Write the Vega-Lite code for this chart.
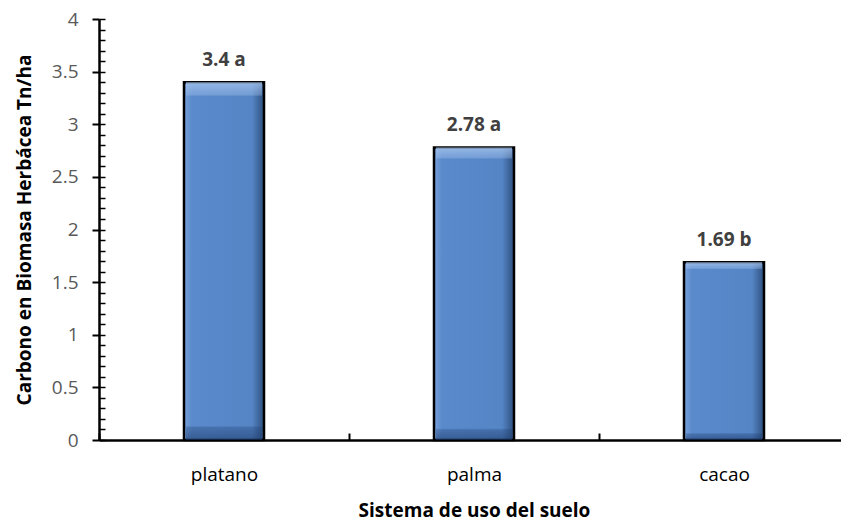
{
  "$schema": "https://vega.github.io/schema/vega-lite/v6.json",
  "width": 742,
  "height": 421,
  "autosize": {"type": "none"},
  "padding": {"left": 99, "top": 19, "right": 0, "bottom": 86},
  "background": "white",
  "config": {
    "view": {"stroke": null},
    "font": "Open Sans"
  },
  "data": {
    "values": [
      {"sistema": "platano", "carbono": 3.4, "etiqueta": "3.4 a"},
      {"sistema": "palma", "carbono": 2.78, "etiqueta": "2.78 a"},
      {"sistema": "cacao", "carbono": 1.69, "etiqueta": "1.69 b"}
    ]
  },
  "encoding": {
    "x": {
      "field": "sistema",
      "type": "nominal",
      "sort": null,
      "scale": {"range": [0, 750], "paddingInner": 0, "paddingOuter": 0},
      "axis": {
        "title": "Sistema de uso del suelo",
        "titleFont": "Open Sans",
        "titleFontSize": 19,
        "titleFontWeight": "bold",
        "titleColor": "#000000",
        "titlePadding": 17,
        "labelFont": "Open Sans",
        "labelFontSize": 19,
        "labelColor": "#000000",
        "labelAngle": 0,
        "labelPadding": 32,
        "tickBand": "extent",
        "tickSize": -7,
        "tickColor": "#000000",
        "tickWidth": 2,
        "domainColor": "#000000",
        "domainWidth": 2.5,
        "grid": false
      }
    }
  },
  "layer": [
    {
      "mark": {
        "type": "bar",
        "width": 80,
        "stroke": "#000000",
        "strokeWidth": 2.5,
        "color": {
          "gradient": "linear",
          "x1": 0, "y1": 0, "x2": 1, "y2": 0,
          "stops": [
            {"offset": 0, "color": "#7aa3dc"},
            {"offset": 0.1, "color": "#5a8acb"},
            {"offset": 0.85, "color": "#5585c5"},
            {"offset": 1, "color": "#2d4f7e"}
          ]
        }
      },
      "encoding": {
        "y": {
          "field": "carbono",
          "type": "quantitative",
          "scale": {"domain": [0, 4], "nice": false},
          "axis": {
            "orient": "left",
            "title": "Carbono en Biomasa Herbácea Tn/ha",
            "titleFont": "Open Sans",
            "titleFontSize": 19,
            "titleFontWeight": "bold",
            "titleColor": "#000000",
            "titlePadding": 17,
            "values": [0, 0.5, 1, 1.5, 2, 2.5, 3, 3.5, 4],
            "format": "~g",
            "labelFont": "Open Sans",
            "labelFontSize": 19,
            "labelColor": "#595959",
            "labelPadding": 14,
            "tickSize": 7,
            "tickColor": "#000000",
            "tickWidth": 2,
            "domainColor": "#000000",
            "domainWidth": 2.5,
            "grid": false
          }
        }
      }
    },
    {
      "mark": {
        "type": "bar",
        "width": 76,
        "strokeWidth": 0,
        "color": {
          "gradient": "linear",
          "x1": 0, "y1": 0, "x2": 0, "y2": 1,
          "stops": [
            {"offset": 0, "color": "rgba(170,200,240,0.75)"},
            {"offset": 0.035, "color": "rgba(170,200,240,0.35)"},
            {"offset": 0.04, "color": "rgba(170,200,240,0)"},
            {"offset": 0.96, "color": "rgba(30,60,110,0)"},
            {"offset": 0.965, "color": "rgba(30,60,110,0.3)"},
            {"offset": 1, "color": "rgba(30,60,110,0.6)"}
          ]
        }
      },
      "encoding": {
        "y": {"field": "carbono", "type": "quantitative", "axis": null}
      }
    },
    {
      "mark": {"type": "text", "baseline": "bottom", "dy": -12, "fontSize": 19, "fontWeight": "bold", "color": "#404040", "font": "Open Sans"},
      "encoding": {
        "y": {
          "field": "carbono",
          "type": "quantitative",
          "axis": {
            "orient": "left",
            "title": null,
            "values": [0.1, 0.2, 0.3, 0.4, 0.6, 0.7, 0.8, 0.9, 1.1, 1.2, 1.3, 1.4, 1.6, 1.7, 1.8, 1.9, 2.1, 2.2, 2.3, 2.4, 2.6, 2.7, 2.8, 2.9, 3.1, 3.2, 3.3, 3.4, 3.6, 3.7, 3.8, 3.9, 0, 0.5, 1, 1.5, 2, 2.5, 3, 3.5, 4],
            "labels": false,
            "tickSize": -6,
            "tickColor": "#000000",
            "tickWidth": 1.5,
            "domain": false,
            "grid": false
          }
        },
        "text": {"field": "etiqueta"}
      }
    }
  ],
  "resolve": {"axis": {"y": "independent"}}
}
